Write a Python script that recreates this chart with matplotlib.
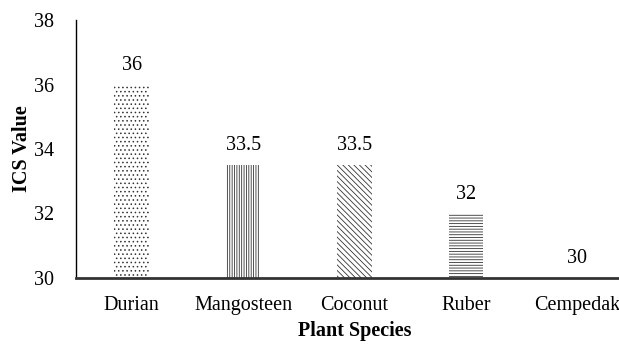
"""ICS value by plant species, hatched bar chart"""

import matplotlib
matplotlib.use("Agg")
import matplotlib.pyplot as plt

species = ["Durian", "Mangosteen", "Coconut", "Ruber", "Cempedak"]
ics_values = [36, 33.5, 33.5, 32, 30]
hatches = ["....", "|||||||", "\\\\\\\\\\\\", "------", ""]

plt.rcParams["font.family"] = ["Liberation Serif", "DejaVu Serif"]
plt.rcParams["hatch.linewidth"] = 0.6

fig = plt.figure(figsize=(6.19, 3.44), dpi=100)
# axes runs past the right edge, so the last category is partly cut off
ax = fig.add_axes([76 / 619, 1 - 278 / 344, 557 / 619, 258 / 344])

x = range(len(species))
bars = ax.bar(x, ics_values, width=0.31, color="white",
              edgecolor="#333333", linewidth=0)
for bar, h in zip(bars, hatches):
    bar.set_hatch(h)

for i, v in zip(x, ics_values):
    ax.annotate(f"{v:g}", (i, v), xytext=(0, 7), textcoords="offset points",
                ha="center", va="bottom", fontsize=14.5)

ax.set_ylim(30, 38)
ax.set_xlim(-0.5, len(species) - 0.5)
ax.set_yticks([30, 32, 34, 36, 38])
ax.set_xticks(list(x))
ax.set_xticklabels(species)
ax.tick_params(axis="both", length=0, labelsize=14.5)
ax.tick_params(axis="y", pad=16)
ax.tick_params(axis="x", pad=13)

for side in ("top", "right"):
    ax.spines[side].set_visible(False)
ax.spines["left"].set_linewidth(1.0)
ax.spines["bottom"].set_linewidth(2.0)
ax.spines["bottom"].set_color("#333333")

ax.set_xlabel("Plant Species", fontsize=14.5, fontweight="bold", labelpad=4)
ax.set_ylabel("ICS Value", fontsize=14.5, fontweight="bold", labelpad=1)

fig.savefig("out.png", dpi=100)
